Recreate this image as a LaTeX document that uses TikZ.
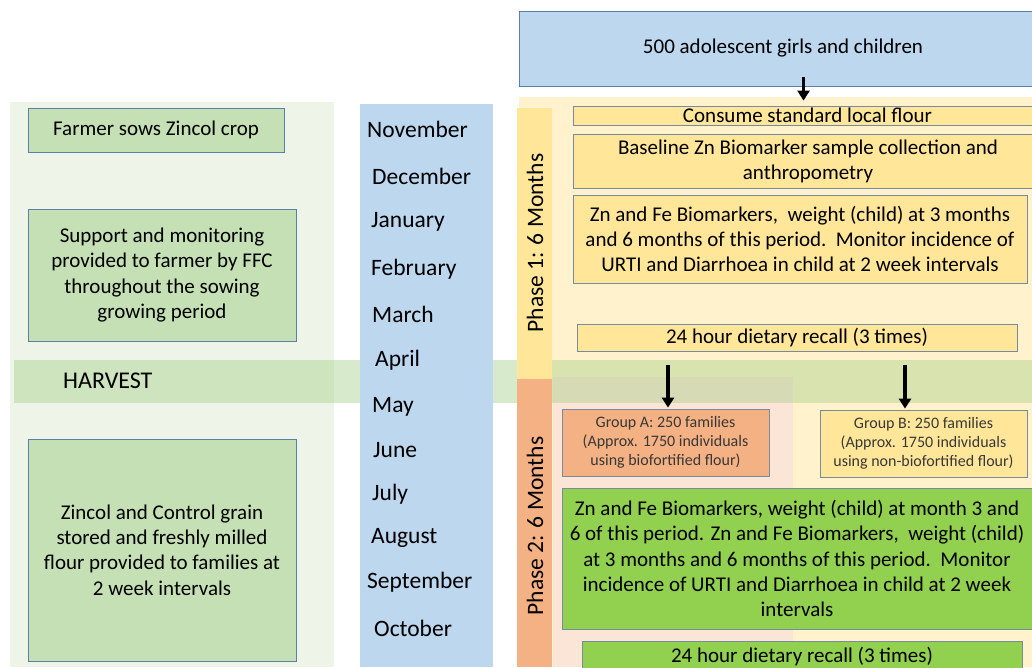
\documentclass[tikz,border=0pt]{standalone}
\usepackage{fontspec}
\setmainfont{Carlito}
\usetikzlibrary{arrows.meta}

\definecolor{leftbg}{RGB}{238,244,232}
\definecolor{sowgreen}{RGB}{197,224,180}
\definecolor{bandgreen}{RGB}{169,209,142}
\definecolor{monthblue}{RGB}{189,215,238}
\definecolor{paleyellow}{RGB}{255,242,204}
\definecolor{paleorange}{RGB}{251,229,214}
\definecolor{gold}{RGB}{255,230,153}
\definecolor{peach}{RGB}{244,177,131}
\definecolor{lime}{RGB}{146,208,80}
\definecolor{edgeblue}{RGB}{91,127,166}
\definecolor{edgegrey}{RGB}{120,138,160}

\begin{document}
\begin{tikzpicture}[x=1pt, y=-1pt,
    txt/.style={font=\fontsize{21}{25.2}\selectfont, align=center},
    leftbox/.style={txt, draw=edgeblue, line width=0.8pt, fill=sowgreen},
    phasebox/.style={txt, draw=edgegrey, line width=0.8pt, inner sep=1pt},
    groupbox/.style={phasebox, font=\fontsize{16}{19}\selectfont, text=black!78},
    month/.style={font=\fontsize{23.5}{27}\selectfont, anchor=base west, inner sep=0pt},
    phaselabel/.style={font=\fontsize{23.5}{27}\selectfont, rotate=90, inner sep=0pt},
    arr/.style={line width=3.5pt, -{Triangle[width=12pt,length=10pt]}}]
  \useasboundingbox (0,0) rectangle (1032,667);

  % backgrounds
  \fill[leftbg] (10,102) rectangle (334,667);
  \fill[paleyellow] (519,97) rectangle (1032,667);
  \fill[paleorange] (553,377) rectangle (793,667);
  \fill[bandgreen, opacity=0.45] (14,360) rectangle (1032,403);
  \fill[monthblue] (360,104) rectangle (493,667);
  \fill[gold] (517,108) rectangle (552,379);
  \fill[peach] (517,379) rectangle (552,667);
  \node[phaselabel] (ph1) at (535,243) {Phase 1: 6 Months};
  \node[phaselabel] (ph2) at (535,526) {Phase 2: 6 Months};

  % left column
  \node[leftbox, minimum width=256pt, minimum height=44pt] (sow) at (156,130) {Farmer sows Zincol crop};
  \node[leftbox, minimum width=268pt, minimum height=132pt] (support) at (162,275)
    {Support and monitoring\\provided to farmer by FFC\\throughout the sowing\\growing period};
  \node[font=\fontsize{24}{28}\selectfont, anchor=base west, inner sep=0pt] (harvest) at (63,388) {HARVEST};
  \node[leftbox, minimum width=268pt, minimum height=222pt] (zincol) at (162,550)
    {Zincol and Control grain\\stored and freshly milled\\flour provided to families at\\2 week intervals};

  % months
  \node[month] (nov) at (367,137) {November};
  \node[month] (dec) at (372,184) {December};
  \node[month] (jan) at (371,227) {January};
  \node[month] (feb) at (371,275) {February};
  \node[month] (mar) at (372,322) {March};
  \node[month] (apr) at (375,366) {April};
  \node[month] (may) at (372,412) {May};
  \node[month] (jun) at (373,457) {June};
  \node[month] (jul) at (372,500) {July};
  \node[month] (aug) at (371,543) {August};
  \node[month] (sep) at (367,588) {September};
  \node[month] (oct) at (374,636) {October};

  % phase 1
  \node[txt, draw=edgeblue, line width=0.8pt, fill=monthblue, minimum width=528pt, minimum height=75pt] (top) at (783,48.5)
    {500 adolescent girls and children};
  \node[phasebox, fill=gold, inner ysep=0pt, minimum width=469pt, minimum height=19pt] (consume) at (807.5,115.5)
    {Consume standard local flour};
  \node[phasebox, fill=gold, minimum width=470pt, minimum height=54pt] (baseline) at (808,161)
    {Baseline Zn Biomarker sample collection and\\anthropometry};
  \node[phasebox, fill=gold, minimum width=454pt, minimum height=88pt] (znfe1) at (800,239)
    {Zn and Fe Biomarkers,\ \ weight (child)\ at 3 months\\and 6 months of this period.\ \ Monitor incidence of\\URTI and Diarrhoea in child at 2 week intervals};
  \node[phasebox, fill=gold, minimum width=440pt, minimum height=27pt] (recall1) at (797,337.5)
    {24 hour dietary recall (3 times)};

  % phase 2
  \node[groupbox, fill=peach, minimum width=207pt, minimum height=67pt] (grpA) at (665.5,442.5)
    {Group A: 250 families\\(Approx. 1750 individuals\\using biofortified flour)};
  \node[groupbox, fill=gold, minimum width=207pt, minimum height=67pt] (grpB) at (923.5,443.5)
    {Group B: 250 families\\(Approx. 1750 individuals\\using non-biofortified flour)};
  \node[phasebox, fill=lime, minimum width=470pt, minimum height=141pt] (znfe2) at (797,558.5)
    {Zn and Fe Biomarkers, weight (child) at month 3 and\\6 of this period. Zn and Fe Biomarkers,\ \ weight (child)\\at 3 months and 6 months of this period.\ \ Monitor\\incidence of URTI and Diarrhoea in child at 2 week\\intervals};
  \node[phasebox, fill=lime, minimum width=440pt, minimum height=30pt] (recall2) at (802,656)
    {24 hour dietary recall (3 times)};

  % arrows
  \coordinate (splitA) at (668,365);
  \coordinate (splitB) at (905,365);
  \draw[arr, shorten >=5pt] ([xshift=-4pt, yshift=9pt]top.south -| consume.north) -- ([xshift=-4pt]consume.north);
  \draw[arr, shorten >=1pt] (splitA) -- (splitA |- grpA.north);
  \draw[arr, shorten >=1pt] (splitB) -- (splitB |- grpB.north);
\end{tikzpicture}
\end{document}
